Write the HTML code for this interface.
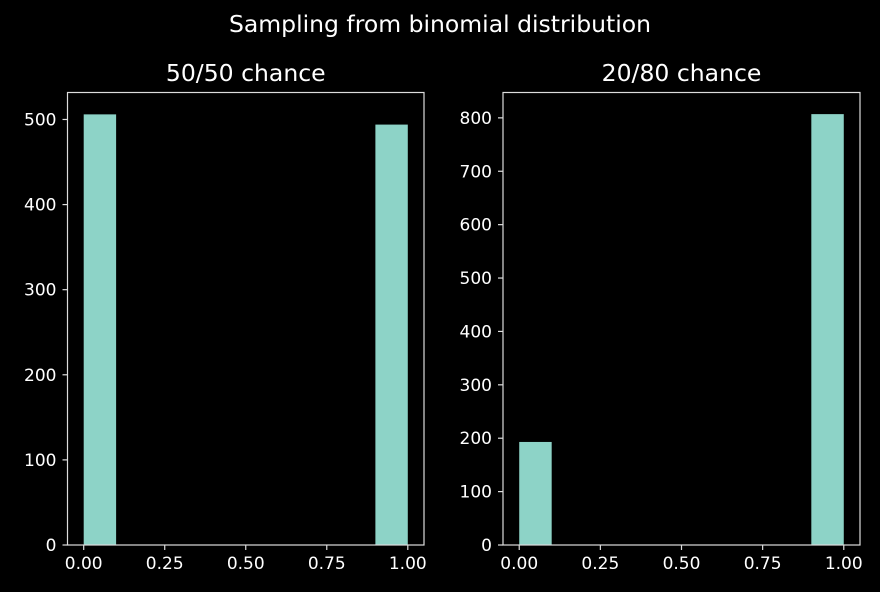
<!DOCTYPE html>
<html><head><meta charset="utf-8"><style>
body{margin:0;background:#000;}
svg{display:block;font-family:"DejaVu Sans","Liberation Sans",sans-serif;}
</style></head><body>
<svg id="chart" width="880" height="592">
<rect width="880" height="592" fill="#000"/>
<text x="440" y="32" fill="#fff" font-size="23.5" text-anchor="middle">Sampling from binomial distribution</text>
</svg>
<script>
const leftBins = [0, 0.9];
const leftCounts = [506, 494];
const leftYTicks = [0, 100, 200, 300, 400, 500];
const rightBins = [0, 0.9];
const rightCounts = [193, 807];
const rightYTicks = [0, 100, 200, 300, 400, 500, 600, 700, 800];
const xTicks = [0, 0.25, 0.5, 0.75, 1.0];
const binWidth = 0.1;

const svg = document.getElementById('chart');
const NS = 'http://www.w3.org/2000/svg';
function mk(tag, attrs, parent){const e=document.createElementNS(NS,tag);for(const k in attrs)e.setAttribute(k,attrs[k]);(parent||svg).appendChild(e);return e;}

function panel(name, L, R, yMax, title, bins, counts, yTicks){
  const T=92.5, B=545;
  const g = mk('g',{});
  
  
  const xs = v => L + (v + 0.05) / 1.1 * (R - L);
  const ys = v => B - v / yMax * (B - T);
  bins.forEach((b,i)=>{
    const r = mk('rect',{x:xs(b),y:ys(counts[i]),width:xs(b+binWidth)-xs(b),height:B-ys(counts[i]),fill:'#8dd3c7'},g);
    
    
  });
  const f = mk('rect',{x:L,y:T,width:R-L,height:B-T,fill:'none',stroke:'#ddd','stroke-width':1.2},g);
  
  
  yTicks.forEach(t=>{
    mk('line',{x1:L-5,x2:L,y1:ys(t),y2:ys(t),stroke:'#ddd','stroke-width':1.2},g);
    const tx = mk('text',{x:L-11,y:ys(t)+6,fill:'#fff','font-size':17,'text-anchor':'end'},g);
    tx.textContent = t;
    
    
  });
  xTicks.forEach(t=>{
    mk('line',{x1:xs(t),x2:xs(t),y1:B,y2:B+5,stroke:'#ddd','stroke-width':1.2},g);
    const tx = mk('text',{x:xs(t),y:B+24,fill:'#fff','font-size':17,'text-anchor':'middle'},g);
    tx.textContent = t.toFixed(2);
    
    
  });
  const tt = mk('text',{x:(L+R)/2,y:81,fill:'#fff','font-size':23.5,'text-anchor':'middle'},g);
  tt.textContent = title;
  
  
}
panel('left-panel', 67.5, 424, 531.7, '50/50 chance', leftBins, leftCounts, leftYTicks);
panel('right-panel', 503, 860, 847.5, '20/80 chance', rightBins, rightCounts, rightYTicks);
</script>
</body></html>
